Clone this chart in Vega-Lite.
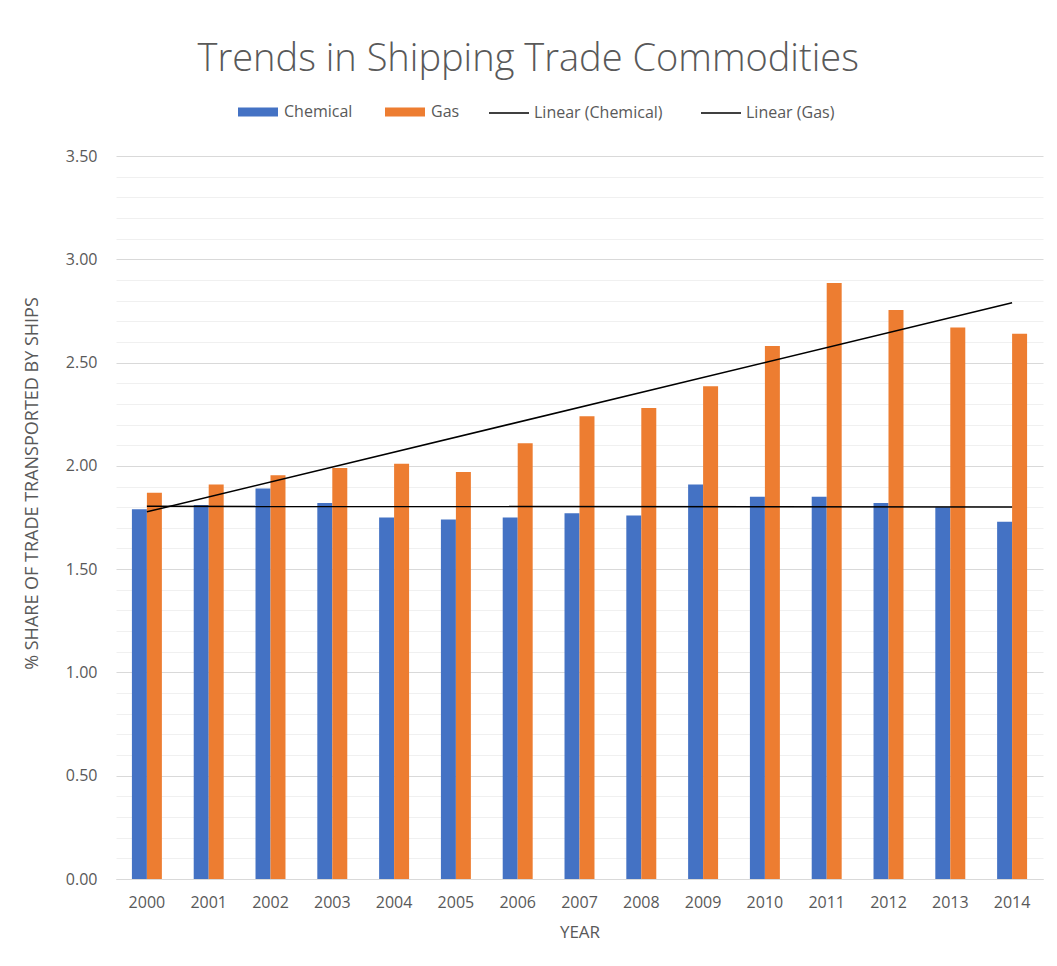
{
  "$schema": "https://vega.github.io/schema/vega-lite/v6.json",
  "width": 927,
  "height": 723,
  "autosize": {"type": "none"},
  "padding": {"left": 116, "top": 156, "right": 14, "bottom": 87},
  "background": "white",
  "config": {"font": "Open Sans", "view": {"stroke": null}},
  "title": {
    "text": "Trends in Shipping Trade Commodities",
    "anchor": "middle",
    "frame": "bounds",
    "fontSize": 38,
    "fontWeight": 300,
    "color": "#595959",
    "offset": 13,
    "dx": -5
  },
  "data": {
    "values": [
      {"year": 2000, "series": "Chemical", "trend": "Linear (Chemical)", "value": 1.79},
      {"year": 2001, "series": "Chemical", "trend": "Linear (Chemical)", "value": 1.81},
      {"year": 2002, "series": "Chemical", "trend": "Linear (Chemical)", "value": 1.89},
      {"year": 2003, "series": "Chemical", "trend": "Linear (Chemical)", "value": 1.82},
      {"year": 2004, "series": "Chemical", "trend": "Linear (Chemical)", "value": 1.75},
      {"year": 2005, "series": "Chemical", "trend": "Linear (Chemical)", "value": 1.74},
      {"year": 2006, "series": "Chemical", "trend": "Linear (Chemical)", "value": 1.75},
      {"year": 2007, "series": "Chemical", "trend": "Linear (Chemical)", "value": 1.77},
      {"year": 2008, "series": "Chemical", "trend": "Linear (Chemical)", "value": 1.76},
      {"year": 2009, "series": "Chemical", "trend": "Linear (Chemical)", "value": 1.91},
      {"year": 2010, "series": "Chemical", "trend": "Linear (Chemical)", "value": 1.85},
      {"year": 2011, "series": "Chemical", "trend": "Linear (Chemical)", "value": 1.85},
      {"year": 2012, "series": "Chemical", "trend": "Linear (Chemical)", "value": 1.82},
      {"year": 2013, "series": "Chemical", "trend": "Linear (Chemical)", "value": 1.80},
      {"year": 2014, "series": "Chemical", "trend": "Linear (Chemical)", "value": 1.73},
      {"year": 2000, "series": "Gas", "trend": "Linear (Gas)", "value": 1.87},
      {"year": 2001, "series": "Gas", "trend": "Linear (Gas)", "value": 1.91},
      {"year": 2002, "series": "Gas", "trend": "Linear (Gas)", "value": 1.955},
      {"year": 2003, "series": "Gas", "trend": "Linear (Gas)", "value": 1.99},
      {"year": 2004, "series": "Gas", "trend": "Linear (Gas)", "value": 2.01},
      {"year": 2005, "series": "Gas", "trend": "Linear (Gas)", "value": 1.97},
      {"year": 2006, "series": "Gas", "trend": "Linear (Gas)", "value": 2.11},
      {"year": 2007, "series": "Gas", "trend": "Linear (Gas)", "value": 2.24},
      {"year": 2008, "series": "Gas", "trend": "Linear (Gas)", "value": 2.28},
      {"year": 2009, "series": "Gas", "trend": "Linear (Gas)", "value": 2.385},
      {"year": 2010, "series": "Gas", "trend": "Linear (Gas)", "value": 2.58},
      {"year": 2011, "series": "Gas", "trend": "Linear (Gas)", "value": 2.885},
      {"year": 2012, "series": "Gas", "trend": "Linear (Gas)", "value": 2.755},
      {"year": 2013, "series": "Gas", "trend": "Linear (Gas)", "value": 2.67},
      {"year": 2014, "series": "Gas", "trend": "Linear (Gas)", "value": 2.64}
    ]
  },
  "layer": [
    {
      "mark": {"type": "bar"},
      "encoding": {
        "x": {
          "field": "year",
          "type": "ordinal",
          "scale": {"paddingInner": 0.515, "paddingOuter": 0.2575},
          "axis": {
            "title": "YEAR",
            "labelAngle": 0,
            "ticks": false,
            "domainColor": "#d9d9d9",
            "labelPadding": 15,
            "labelFontSize": 16,
            "labelColor": "#595959",
            "titleFontSize": 17,
            "titleFontWeight": "normal",
            "titleColor": "#595959",
            "titlePadding": 14
          }
        },
        "xOffset": {"field": "series", "scale": {"paddingInner": 0, "paddingOuter": 0}},
        "y": {
          "field": "value",
          "type": "quantitative",
          "scale": {"domain": [0, 3.5], "nice": false},
          "axis": {
            "values": [0, 0.5, 1, 1.5, 2, 2.5, 3, 3.5],
            "format": ".2f",
            "grid": true,
            "gridColor": "#d9d9d9",
            "domain": false,
            "ticks": false,
            "labelPadding": 19,
            "labelFontSize": 16,
            "labelColor": "#595959",
            "title": "% SHARE OF TRADE TRANSPORTED BY SHIPS",
            "titleFontSize": 18,
            "titleFontWeight": "normal",
            "titleColor": "#595959",
            "titlePadding": 24,
            "titleY": 327
          }
        },
        "fill": {
          "field": "series",
          "type": "nominal",
          "scale": {"domain": ["Chemical", "Gas"], "range": ["#4472C4", "#ED7D31"]},
          "legend": {
            "orient": "none",
            "legendX": 122,
            "legendY": -64,
            "direction": "horizontal",
            "title": null,
            "symbolType": "M-1,-0.225H1V0.225H-1Z",
            "symbolSize": 1600,
            "symbolStrokeWidth": 0,
            "labelFontSize": 16,
            "labelColor": "#595959",
            "labelOffset": 6,
            "columnPadding": 32,
            "padding": 0
          }
        }
      }
    },
    {
      "transform": [{"regression": "value", "on": "year", "groupby": ["trend"]}],
      "mark": {"type": "line", "strokeWidth": 1.5},
      "encoding": {
        "x": {"field": "year", "type": "ordinal"},
        "y": {
          "field": "value",
          "type": "quantitative",
          "axis": {
            "orient": "right",
            "values": [0.1, 0.2, 0.3, 0.4, 0.6, 0.7, 0.8, 0.9, 1.1, 1.2, 1.3, 1.4, 1.6, 1.7, 1.8, 1.9, 2.1, 2.2, 2.3, 2.4, 2.6, 2.7, 2.8, 2.9, 3.1, 3.2, 3.3, 3.4],
            "grid": true,
            "gridColor": "#f0f0f0",
            "labels": false,
            "ticks": false,
            "domain": false,
            "title": null
          }
        },
        "stroke": {
          "field": "trend",
          "type": "nominal",
          "scale": {"domain": ["Linear (Chemical)", "Linear (Gas)"], "range": ["#000000", "#000000"]},
          "legend": {
            "orient": "none",
            "legendX": 372,
            "legendY": -64,
            "direction": "horizontal",
            "title": null,
            "symbolType": "stroke",
            "symbolSize": 1600,
            "symbolStrokeWidth": 1.5,
            "labelFontSize": 16,
            "labelColor": "#595959",
            "labelOffset": 4,
            "columnPadding": 35,
            "padding": 0
          }
        }
      }
    }
  ],
  "resolve": {"axis": {"y": "independent"}}
}
